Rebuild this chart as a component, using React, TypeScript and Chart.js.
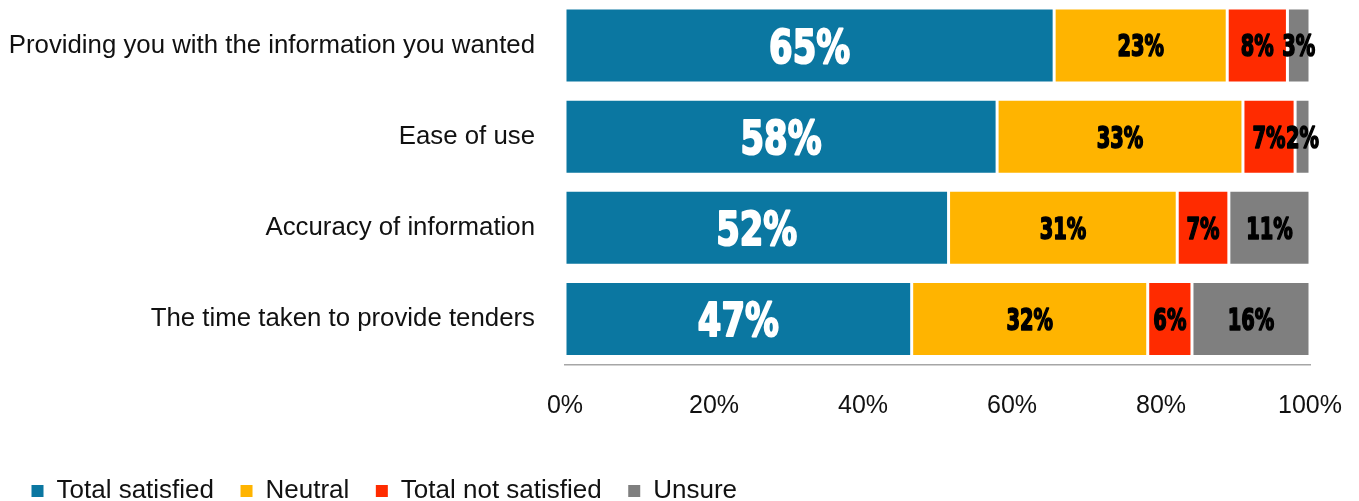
import React, { useEffect, useRef } from "react";
import { Chart, registerables } from "chart.js";

Chart.register(...registerables);

const categories = [
  "Providing you with the information you wanted",
  "Ease of use",
  "Accuracy of information",
  "The time taken to provide tenders",
];
const seriesNames = ["Total satisfied", "Neutral", "Total not satisfied", "Unsure"];
const satisfied = [65, 58, 52, 47];
const neutral = [23, 33, 31, 32];
const notSatisfied = [8, 7, 7, 6];
const unsure = [3, 2, 11, 16];
const seriesColors = ["#0B77A1", "#FFB400", "#FF2B00", "#7F7F7F"];
const xTickValues = [0, 20, 40, 60, 80, 100];

const rawSeries = [satisfied, neutral, notSatisfied, unsure];
// each bar is a 100% stacked bar: the shares are the labelled values scaled to their row total
const rowTotals = categories.map((_, i) => rawSeries.reduce((s, arr) => s + arr[i], 0));
const toShare = (arr: number[]) => arr.map((v, i) => (v / rowTotals[i]) * 100);

const FONT = "'Liberation Sans', Arial, sans-serif";
const LABEL_FONT = "'DejaVu Sans Condensed', 'DejaVu Sans', sans-serif";

const valueLabels = {
  id: "valueLabels",
  afterDatasetsDraw(chart: any) {
    const ctx = chart.ctx;
    chart.data.datasets.forEach((_ds: any, di: number) => {
      const meta = chart.getDatasetMeta(di);
      if (meta.hidden) return;
      meta.data.forEach((el: any, i: number) => {
        const raw = rawSeries[di][i];
        const { x, base, y } = el.getProps(["x", "base", "y"], true);
        const cx = (x + base) / 2;
        const big = di === 0;
        const size = big ? 47 : 30;
        const sx = big ? 0.8 : 0.72;
        const color = big ? "#FFFFFF" : "#000000";
        ctx.save();
        ctx.translate(cx, y + (0.729 * size) / 2);
        ctx.scale(sx, 1);
        ctx.font = `bold ${size}px ${LABEL_FONT}`;
        ctx.textAlign = "center";
        ctx.textBaseline = "alphabetic";
        ctx.fillStyle = color;
        ctx.strokeStyle = color;
        ctx.lineWidth = big ? 2 : 1.6;
        ctx.lineJoin = "round";
        const txt = `${raw}%`;
        ctx.strokeText(txt, 0, 0);
        ctx.fillText(txt, 0, 0);
        ctx.restore();
      });
    });
  },
};

export default function App() {
  const canvasRef = useRef<HTMLCanvasElement | null>(null);

  useEffect(() => {
    if (!canvasRef.current) return;
    Chart.defaults.font.family = FONT;
    const chart = new Chart(canvasRef.current, {
      type: "bar",
      data: {
        labels: categories,
        datasets: rawSeries.map((arr, k) => ({
          label: seriesNames[k],
          data: toShare(arr),
          backgroundColor: seriesColors[k],
          borderColor: "#FFFFFF",
          borderWidth: 1.5,
          borderSkipped: false,
          barPercentage: 0.824,
          categoryPercentage: 1,
        })),
      },
      options: {
        indexAxis: "y",
        animation: false,
        responsive: true,
        maintainAspectRatio: false,
        layout: { padding: { left: 5, right: 49, top: 0, bottom: 0 } },
        plugins: {
          tooltip: { enabled: false },
          legend: {
            position: "bottom",
            align: "start",
            labels: {
              boxWidth: 12,
              boxHeight: 12,
              padding: 26.5,
              color: "#111111",
              font: { size: 26, family: FONT },
              generateLabels: (c: any) =>
                Chart.defaults.plugins.legend.labels
                  .generateLabels(c)
                  .map((l: any) => ({ ...l, lineWidth: 0, strokeStyle: "rgba(0,0,0,0)" })),
            },
          },
        },
        scales: {
          x: {
            stacked: true,
            min: 0,
            max: 100,
            afterBuildTicks: (scale: any) => {
              scale.ticks = xTickValues.map((v) => ({ value: v }));
            },
            afterFit: (scale: any) => {
              scale.height = 87;
              scale.paddingLeft = 0;
              scale.paddingRight = 0;
            },
            grid: { display: false, drawTicks: false },
            border: { display: true, color: "#A6A6A6", width: 1.5 },
            ticks: {
              padding: 27,
              color: "#111111",
              font: { size: 25, family: FONT },
              callback: (v: any) => `${v}%`,
              maxRotation: 0,
            },
          },
          y: {
            stacked: true,
            afterFit: (scale: any) => {
              scale.width = 560;
              scale.paddingTop = 0;
              scale.paddingBottom = 0;
            },
            grid: { display: false, drawTicks: false },
            border: { display: false },
            ticks: {
              padding: 30,
              color: "#111111",
              font: { size: 25.8, family: FONT },
            },
          },
        },
      },
      plugins: [valueLabels],
    } as any);
    return () => chart.destroy();
  }, []);

  return (
    <div
      style={{
        position: "absolute",
        left: 0,
        top: 0,
        width: 1359,
        height: 501,
        overflow: "hidden",
        background: "#FFFFFF",
      }}
    >
      <div style={{ position: "relative", width: 1359, height: 514 }}>
        <canvas ref={canvasRef} />
      </div>
    </div>
  );
}
